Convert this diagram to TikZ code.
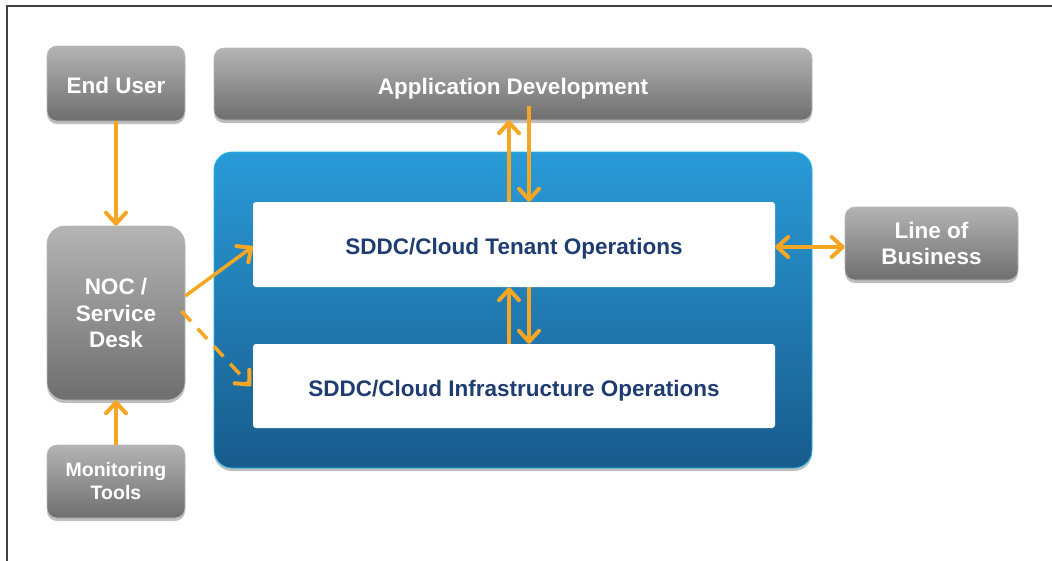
\documentclass[tikz,border=0pt]{standalone}
\usepackage{fontspec}
\setmainfont{Liberation Sans}
\usetikzlibrary{arrows.meta,shadows}
\definecolor{org}{HTML}{F5A623}
\definecolor{navy}{HTML}{1F3D73}
\definecolor{gtop}{HTML}{B4B4B4}
\definecolor{gbot}{HTML}{6E6E6E}
\definecolor{btop}{HTML}{2A9BD8}
\definecolor{bbot}{HTML}{185B8C}
\tikzset{
  graybox/.style={rectangle, rounded corners=#1, top color=gtop, bottom color=gbot,
    draw=gray!55, line width=0.6pt, text=white, align=center,
    font=\bfseries\fontsize{22.5}{26.5}\selectfont,
    drop shadow={shadow xshift=0pt, shadow yshift=-3pt, opacity=0.25, fill=black}},
  graybox/.default=10pt,
  oneline/.style={text height=20pt, text depth=0pt},
  bluebox/.style={rectangle, rounded corners=18pt, top color=btop, bottom color=bbot,
    draw=btop!70!cyan, line width=0.8pt,
    drop shadow={shadow xshift=0pt, shadow yshift=-3pt, opacity=0.25, fill=black}},
  opsbox/.style={rectangle, rounded corners=3pt, fill=white, text=navy, align=center,
    font=\bfseries\fontsize{22.5}{27}\selectfont, text height=20pt, text depth=0pt},
  tipv/.tip={Straight Barb[length=11pt,width=20pt,line width=4pt,round]},
  flow/.style={draw=org, line width=3.5pt, -tipv},
  flowboth/.style={draw=org, line width=3.5pt, tipv-tipv},
  framebox/.style={draw=black!75, line width=1.4pt}
}
\begin{document}
\begin{tikzpicture}[x=1pt,y=-1pt]
\useasboundingbox (0,0) rectangle (1052,560);
\fill[white] (0,0) rectangle (1052,560);
\draw[framebox] (7,562) -- (7,6) -- (1054,6);

\node[graybox, oneline, minimum width=138pt, minimum height=75pt] (eu) at (116,83.5) {End User};
\node[graybox, oneline, minimum width=598pt, minimum height=72pt] (ad) at (513,84) {Application Development};
\node[bluebox, minimum width=598pt, minimum height=316pt] (blue) at (513,310) {};
\node[opsbox, minimum width=522pt, minimum height=85pt] (ten) at (514,244.5) {SDDC/Cloud Tenant Operations};
\node[opsbox, minimum width=522pt, minimum height=84pt] (inf) at (514,386) {SDDC/Cloud Infrastructure Operations};
\node[graybox=18pt, minimum width=138pt, minimum height=174pt] (noc) at (116,313) {NOC /\\Service\\Desk};
\node[graybox, minimum width=138pt, minimum height=73pt, font=\bfseries\fontsize{19.5}{23}\selectfont] (mon) at (116,481.5) {Monitoring\\Tools};
\node[graybox, minimum width=173pt, minimum height=73pt] (lob) at (931.5,243.5) {Line of\\Business};

\draw[flow] (eu.south) -- (noc.north);
\draw[flow] (mon.north) -- (noc.south);
\draw[flow] ([yshift=17pt]noc.east) -- ([yshift=-2pt]ten.west);
\draw[flow, dash pattern=on 14pt off 10pt] ([xshift=-4pt,yshift=2pt]noc.east) -- ([xshift=-2pt]inf.west);
\draw[flow] ([xshift=-5pt]ten.north) -- ([xshift=-5pt]ten.north |- ad.south);
\draw[flow] ([xshift=16pt,yshift=14pt]ad.south) -- ([xshift=15pt]ten.north);
\draw[flow] ([xshift=-5pt]inf.north) -- ([xshift=-5pt]ten.south);
\draw[flow] ([xshift=15pt]ten.south) -- ([xshift=15pt]inf.north);
\draw[flowboth] ([yshift=-2.5pt]ten.east) -- ([yshift=-3.5pt]lob.west);
\end{tikzpicture}
\end{document}
